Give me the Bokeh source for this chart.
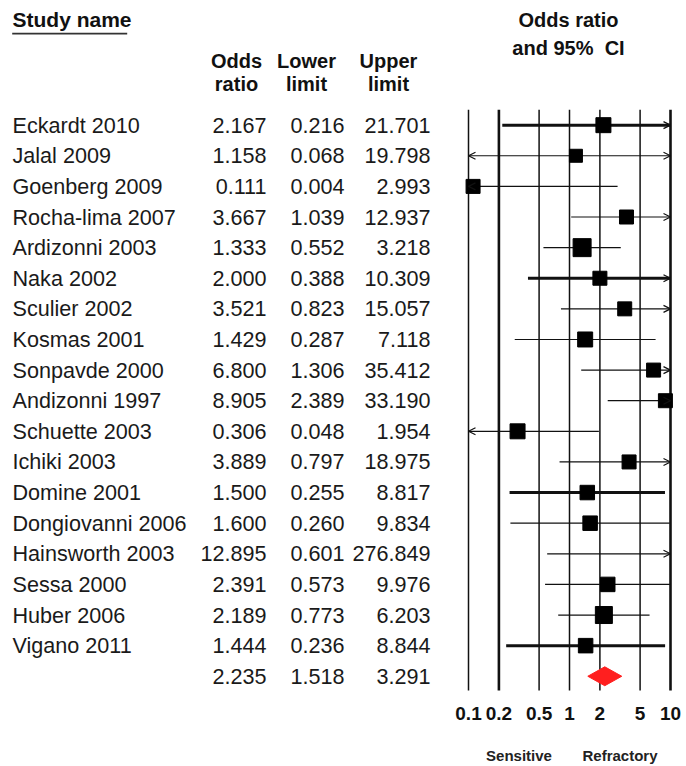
import math
from bokeh.plotting import figure
from bokeh.layouts import row
from bokeh.models import Range1d, ColumnDataSource, FixedTicker, LogAxis, Arrow, OpenHead
from bokeh.core.properties import value
from bokeh.embed import file_html
from bokeh.resources import INLINE

# ---------------- data ----------------
studies = ["Eckardt 2010", "Jalal 2009", "Goenberg 2009", "Rocha-lima  2007",
           "Ardizonni  2003", "Naka  2002", "Sculier 2002", "Kosmas 2001",
           "Sonpavde 2000", "Andizonni 1997", "Schuette 2003", "Ichiki 2003",
           "Domine 2001", "Dongiovanni 2006", "Hainsworth 2003", "Sessa 2000",
           "Huber 2006", "Vigano 2011"]
odds_ratio = [2.167, 1.158, 0.111, 3.667, 1.333, 2.000, 3.521, 1.429, 6.800,
              8.905, 0.306, 3.889, 1.500, 1.600, 12.895, 2.391, 2.189, 1.444]
lower = [0.216, 0.068, 0.004, 1.039, 0.552, 0.388, 0.823, 0.287, 1.306,
         2.389, 0.048, 0.797, 0.255, 0.260, 0.601, 0.573, 0.773, 0.236]
upper = [21.701, 19.798, 2.993, 12.937, 3.218, 10.309, 15.057, 7.118, 35.412,
         33.190, 1.954, 18.975, 8.817, 9.834, 276.849, 9.976, 6.203, 8.844]
summary_or, summary_lo, summary_hi = 2.235, 1.518, 3.291
tick_values = [0.1, 0.2, 0.5, 1.0, 2.0, 5.0, 10.0]
tick_labels = ["0.1", "0.2", "0.5", "1", "2", "5", "10"]
side_labels = ["Sensitive", "Refractory"]

# ---------------- style / layout ----------------
FONT = "Liberation Sans"
TXT = "#1a1a1a"
W_LEFT, W_RIGHT, H = 450, 236, 766
FRAME_BOTTOM = 693
ROW0 = 125.2      # y of first study row
ROW_PX = 30.75    # row spacing
marker_px = [15, 13, 14, 14, 18, 14, 14, 15, 14, 14, 15, 14, 14.5, 14.5, 14, 14.5, 17, 14.5]
thick_rows = {0, 5, 12, 17}
AX_MIN, AX_MAX = tick_values[0], tick_values[-1]
thin_lines = [0.1, 0.5, 1.0, 2.0, 5.0]
thick_lines = [0.2, 10.0]
side_ticks = [10 ** -0.5, 10 ** 0.5]

n = len(studies)
ys = [ROW0 + ROW_PX * i for i in range(n)]
sum_y = ROW0 + ROW_PX * n

# ---------------- left table ----------------
left = figure(width=W_LEFT, height=H, x_range=Range1d(0, W_LEFT),
              y_range=Range1d(FRAME_BOTTOM, 0),
              output_backend="svg", toolbar_location=None, min_border=0,
              min_border_bottom=H - FRAME_BOTTOM,
              x_axis_location=None, y_axis_location=None)
left.grid.visible = False
left.outline_line_color = None

left.text(x=12, y=ys, text=studies, text_font=value(FONT), text_font_size="21.6px",
          text_baseline="middle", text_align="left", text_color=TXT)
all_y = ys + [sum_y]
for col_x, vals in ((266, odds_ratio + [summary_or]),
                    (344, lower + [summary_lo]),
                    (430, upper + [summary_hi])):
    left.text(x=col_x, y=all_y, text=[f"{v:.3f}" for v in vals], text_font=value(FONT),
              text_font_size="21.6px", text_baseline="middle", text_align="right",
              text_color=TXT)

left.text(x=[12], y=[19.5], text=["Study name"], text_font=value(FONT),
          text_font_size="21px", text_font_style="bold", text_baseline="middle",
          text_align="left", text_color="#111111")
left.segment(x0=[11.7], y0=[33.3], x1=[126.7], y1=[33.3], line_width=1.6,
             line_color="#333333")
hx = [236, 306, 388]
left.text(x=hx, y=[60.5] * 3, text=["Odds", "Lower", "Upper"], text_font=value(FONT),
          text_font_size="20px", text_font_style="bold", text_baseline="middle",
          text_align="center", text_color="#111111")
left.text(x=hx, y=[83.5] * 3, text=["ratio", "limit", "limit"], text_font=value(FONT),
          text_font_size="20px", text_font_style="bold", text_baseline="middle",
          text_align="center", text_color="#111111")

# ---------------- right forest plot ----------------
x_lo = 10 ** (-1 - 18 / 101)
x_hi = 10 ** (1 + 16 / 101)
right = figure(width=W_RIGHT, height=H, x_axis_type="log", x_range=Range1d(x_lo, x_hi),
               y_range=Range1d(FRAME_BOTTOM, 0), output_backend="svg",
               toolbar_location=None, min_border=0, min_border_bottom=H - FRAME_BOTTOM,
               y_axis_location=None)
right.grid.visible = False
right.outline_line_color = None

ax = right.xaxis[0]
ax.ticker = FixedTicker(ticks=tick_values)
ax.major_label_overrides = {t: s for t, s in zip(tick_values, tick_labels)}
ax.axis_line_color = None
ax.major_tick_line_color = None
ax.minor_tick_line_color = None
ax.major_tick_out = 0
ax.major_tick_in = 0
ax.minor_tick_out = 0
ax.major_label_standoff = 16
ax.major_label_text_font = FONT
ax.major_label_text_font_size = "19px"
ax.major_label_text_font_style = "bold"
ax.major_label_text_color = "#111111"

ax2 = LogAxis(ticker=FixedTicker(ticks=side_ticks),
              major_label_overrides={t: s for t, s in zip(side_ticks, side_labels)},
              axis_line_color=None, major_tick_line_color=None, minor_tick_line_color=None,
              major_tick_out=0, major_tick_in=0, minor_tick_out=0,
              major_label_standoff=24, major_label_text_font=FONT,
              major_label_text_font_size="15px", major_label_text_font_style="bold",
              major_label_text_color="#222222")
right.add_layout(ax2, "below")

top_y = ROW0 - ROW_PX / 2
bot_y = sum_y + ROW_PX / 2
right.segment(x0=thin_lines, x1=thin_lines, y0=top_y, y1=bot_y, line_color="#111111",
              line_width=1.5)
right.segment(x0=thick_lines, x1=thick_lines, y0=top_y, y1=bot_y, line_color="#111111",
              line_width=2.6)

ci = ColumnDataSource(dict(
    x0=[max(l, AX_MIN) for l in lower],
    x1=[min(u, AX_MAX) for u in upper],
    y=ys,
    w=[3.0 if i in thick_rows else 1.2 for i in range(n)],
))
right.segment(x0="x0", x1="x1", y0="y", y1="y", line_width="w", line_color="#111111",
              source=ci)

vis = [i for i in range(n) if AX_MIN <= odds_ratio[i] <= AX_MAX]
right.scatter(x=[odds_ratio[i] for i in vis], y=[ys[i] for i in vis], marker="square",
              size=[marker_px[i] for i in vis], fill_color="black", line_color="black")

# clipped-interval arrow heads
r_idx = [i for i in range(n) if upper[i] > AX_MAX]
l_idx = [i for i in range(n) if lower[i] < AX_MIN]
right.add_layout(Arrow(end=OpenHead(size=7, line_width=1.2, line_color="#111111"),
                       line_alpha=0,
                       source=ColumnDataSource(dict(xs=[1.0] * len(r_idx),
                                                    xe=[AX_MAX] * len(r_idx),
                                                    y=[ys[i] for i in r_idx])),
                       x_start="xs", x_end="xe", y_start="y", y_end="y"))
right.add_layout(Arrow(end=OpenHead(size=7, line_width=1.2, line_color="#111111"),
                       line_alpha=0,
                       source=ColumnDataSource(dict(xs=[1.0] * len(l_idx),
                                                    xe=[AX_MIN] * len(l_idx),
                                                    y=[ys[i] for i in l_idx])),
                       x_start="xs", x_end="xe", y_start="y", y_end="y"))

# summary diamond
half_h = 9.5
right.patch(x=[summary_lo, summary_or, summary_hi, summary_or],
            y=[sum_y, sum_y - half_h, sum_y, sum_y + half_h],
            fill_color="#ff1f1f", line_color="#ff1f1f")

xc = math.sqrt(x_lo * x_hi)
right.text(x=[xc, xc], y=[19.5, 47.8], text=["Odds ratio", "and 95%\u00a0 CI"],
           text_font=value(FONT), text_font_size="20px", text_font_style="bold",
           text_baseline="middle", text_align="center", text_color="#111111")

layout = row(left, right)
open("out.html", "w").write(file_html(layout, INLINE))
